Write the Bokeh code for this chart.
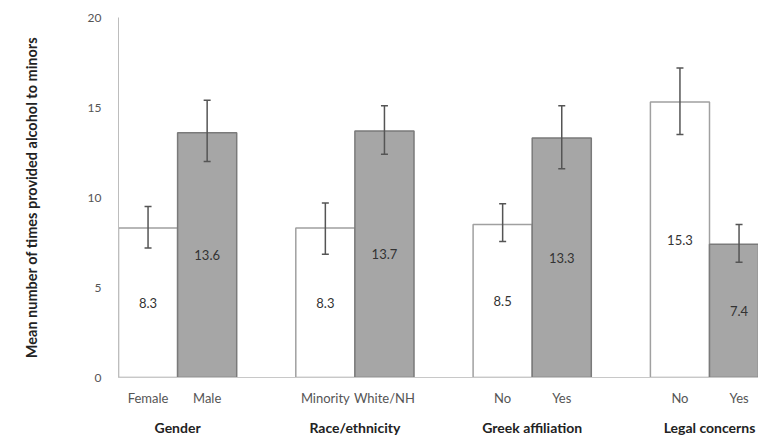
from bokeh.plotting import figure
from bokeh.models import Range1d, FixedTicker, LinearAxis, ColumnDataSource
from bokeh.core.properties import value
from bokeh.embed import file_html
from bokeh.resources import INLINE

categories = ["Female", "Male", "Minority", "White/NH", "No", "Yes", "No", "Yes"]
groups = ["Gender", "Race/ethnicity", "Greek affiliation", "Legal concerns"]
means = [8.3, 13.6, 8.3, 13.7, 8.5, 13.3, 15.3, 7.4]
err_low = [7.2, 12.0, 6.85, 12.4, 7.55, 11.6, 13.5, 6.4]
err_high = [9.5, 15.4, 9.7, 15.1, 9.65, 15.1, 17.2, 8.5]
y_ticks = [0, 5, 10, 15, 20]

xs = [i + i // 2 + 1 for i in range(len(categories))]
group_x = [(xs[2 * g] + xs[2 * g + 1]) / 2 for g in range(len(groups))]
fills = ["white" if i % 2 == 0 else "#a6a6a6" for i in range(len(categories))]
edges = ["#a0a0a0" if i % 2 == 0 else "#7a7a7a" for i in range(len(categories))]

src = ColumnDataSource(dict(
    x=xs, top=means, lo=err_low, hi=err_high, fill=fills, edge=edges,
    ly=[m / 2 for m in means], lbl=[f"{m:.1f}" for m in means],
))

FONT = "Lato"
W, H = 758, 442
LEFT, TOP, BOTTOM = 118, 17, 65
SLOT = 59.1
p = figure(width=W, height=H, output_backend="svg", toolbar_location=None,
           x_range=Range1d(0.5, 0.5 + (W - LEFT) / SLOT), y_range=Range1d(0, 20),
           min_border_left=LEFT, min_border_right=0, min_border_top=TOP,
           min_border_bottom=BOTTOM, x_axis_location=None)
p.outline_line_color = None
p.grid.visible = False

p.vbar(x="x", top="top", width=1, bottom=0, source=src, fill_color="fill",
       line_color="edge", line_width=1.5)

# error bars drawn above the bars
p.segment(x0="x", y0="lo", x1="x", y1="hi", source=src, line_color="#555555", line_width=1.5)
p.scatter(x="x", y="lo", source=src, marker="dash", size=7, line_color="#555555", line_width=1.5)
p.scatter(x="x", y="hi", source=src, marker="dash", size=7, line_color="#555555", line_width=1.5)

p.text(x="x", y="ly", text="lbl", source=src, text_align="center", text_baseline="middle",
       text_font=value(FONT), text_font_size="13px", text_color="#333333")

# y axis
ya = p.yaxis[0]
ya.ticker = FixedTicker(ticks=y_ticks)
ya.axis_line_color = "#bdbdbd"
ya.major_tick_line_color = None
ya.minor_tick_line_color = None
ya.major_label_standoff = 11
ya.major_label_text_font = FONT
ya.major_label_text_font_size = "12px"
ya.major_label_text_color = "#555555"
ya.axis_label = "Mean number of times provided alcohol to minors"
ya.axis_label_text_font = FONT
ya.axis_label_text_font_size = "14.5px"
ya.axis_label_text_font_style = "bold"
ya.axis_label_text_color = "#222222"
ya.axis_label_standoff = 45

# x axis with category labels
xa = LinearAxis(ticker=FixedTicker(ticks=xs),
                major_label_overrides={x: c for x, c in zip(xs, categories)})
xa.axis_line_color = "#c8c8c8"
xa.major_tick_line_color = None
xa.minor_tick_line_color = None
xa.major_label_standoff = 6
xa.major_label_text_font = FONT
xa.major_label_text_font_size = "13px"
xa.major_label_text_color = "#555555"
p.add_layout(xa, "below")

# group labels axis
ga = LinearAxis(ticker=FixedTicker(ticks=group_x),
                major_label_overrides={x: g for x, g in zip(group_x, groups)})
ga.axis_line_color = None
ga.major_tick_line_color = None
ga.minor_tick_line_color = None
ga.major_label_standoff = 4
ga.major_label_text_font = FONT
ga.major_label_text_font_size = "14px"
ga.major_label_text_font_style = "bold"
ga.major_label_text_color = "#222222"
p.add_layout(ga, "below")

open("out.html", "w").write(file_html(p, INLINE))
